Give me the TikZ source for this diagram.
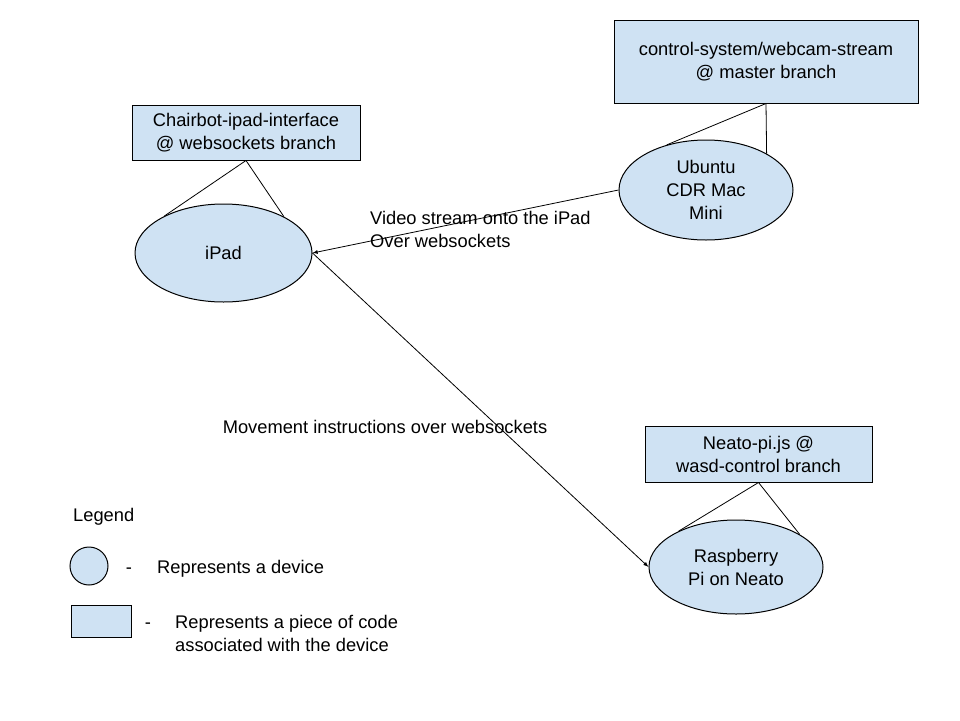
\documentclass[tikz,border=0pt]{standalone}
\usepackage{fontspec}
\setmainfont{Liberation Sans}
\usepackage{tikz}
\usetikzlibrary{arrows,shapes.geometric,positioning}
\definecolor{devblue}{HTML}{CFE2F3}
\tikzset{%
	code/.style     = {draw, rectangle, fill=devblue, line width=1pt, align=center, inner sep=0pt}, % code box
	device/.style   = {draw, ellipse, fill=devblue, line width=1pt, align=center, inner sep=0pt}, % device
	label/.style    = {inner sep=0pt}, % text
	link/.style     = {line width=0.8pt}, % code to device
	arrow/.style    = {line width=0.8pt,-latex}, % data flow
}
\begin{document}
\begin{tikzpicture}[x=1pt,y=-1pt,font=\fontsize{18.3}{23}\selectfont]
	\useasboundingbox (0,0) rectangle (960,720);
	% code boxes
	\node [code,minimum width=304pt,minimum height=83pt] (webcam) at (766,61.5) {control-system/webcam-stream\\@ master branch};
	\node [code,minimum width=228pt,minimum height=55pt] (chairbot) at (246,132.5) {Chairbot-ipad-interface\\@ websockets branch};
	\node [code,minimum width=227pt,minimum height=56pt] (neato) at (758.5,454) {Neato-pi.js @\\wasd-control branch};
	% devices
	\node [device,minimum width=174pt,minimum height=100pt] (mini) at (706,190) {Ubuntu\\CDR Mac\\Mini};
	\node [device,minimum width=177pt,minimum height=98pt] (ipad) at (223.5,253) {iPad};
	\node [device,minimum width=174pt,minimum height=94pt] (pi) at (736,567) {Raspberry\\Pi on Neato};
	
	\draw[link] (webcam.south) -- (mini.131);
	\draw[link] (webcam.south) -- (mini.31);
	\draw[link] (chairbot.south) -- (ipad.148);
	\draw[link] (chairbot.south) -- (ipad.31);
	\draw[link] (neato.south) -- (pi.148);
	\draw[link] (neato.south) -- (pi.27);
	
	\draw[arrow] (mini.west) -- (ipad.east);
	\draw[arrow] (ipad.east) -- (pi.west);
	\node [label,anchor=west,align=left] (video) at (370,229.5) {Video stream onto the iPad\\Over websockets};
	\node [label] (move) at (385,427) {Movement instructions over websockets};
	
	% legend
	\node [label,anchor=west] (legend) at (73,517) {Legend};
	\node [device,circle,minimum size=38pt] (legdev) at (89,566) {};
	\node [label] (dashdev) at (129,571) {-};
	\node [label,anchor=west] (textdev) at (157,569) {Represents a device};
	\node [code,minimum width=60pt,minimum height=32pt] (legcode) at (101,621) {};
	\node [label] (dashcode) at (148,626) {-};
	\node [label,anchor=west,align=left] (textcode) at (175,633) {Represents a piece of code\\associated with the device};
\end{tikzpicture}
\end{document}
